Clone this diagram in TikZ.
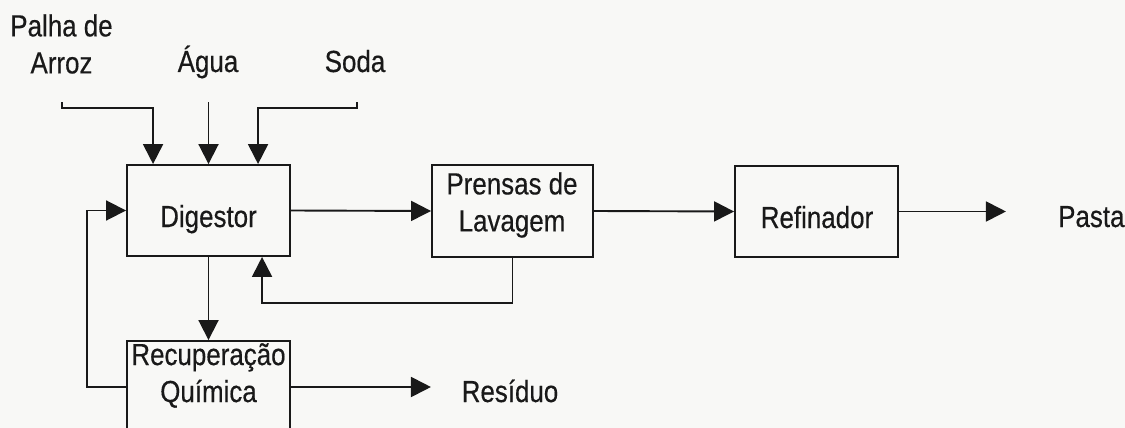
\documentclass[tikz,border=0pt]{standalone}
\usepackage{fontspec}
\setmainfont{Liberation Sans}[FakeStretch=0.85,FakeBold=0.4]
\usetikzlibrary{arrows.meta,calc}
\definecolor{bg}{RGB}{248,248,246}
\definecolor{ink}{RGB}{25,25,25}
\begin{document}
\begin{tikzpicture}[x=1pt,y=-1pt,
  box/.style={draw=ink, line width=1.9pt, minimum width=163pt, minimum height=91pt, inner sep=0pt},
  txt/.style={text=ink, font=\fontsize{30.5pt}{37pt}\selectfont, inner sep=0pt, align=center},
  arr/.style={draw=ink, line width=1.9pt, -{Triangle[length=20pt,width=20pt]}}]
\clip (0,0) rectangle (1125,428);
\fill[bg] (0,0) rectangle (1125,428);
% boxes
\node[box] (dig) at (208.5,210.5) {};
\node[box, minimum width=161pt, minimum height=92pt] (pre) at (512.5,211) {};
\node[box] (ref) at (816.5,211.5) {};
\node[box, minimum height=92pt] (rec) at (208.5,387) {};
% texts
\node[txt, anchor=base] (digt) at (208.5,227) {Digestor};
\node[txt] (pret) at (512,205) {Prensas de\\Lavagem};
\node[txt, anchor=base] (reft) at (817,228) {Refinador};
\node[txt] (rect) at (208.5,375.5) {Recuperação\\Química};
\node[txt] (palha) at (61.5,44) {Palha de\\Arroz};
\node[txt, anchor=base] (agua) at (208,72) {Água};
\node[txt, anchor=base] (soda) at (355,72) {Soda};
\node[txt, anchor=base west] (pasta) at (1058,227) {Pasta};
\node[txt, anchor=base] (res) at (510,402) {Resíduo};
% free ends
\coordinate (pa) at (62,102);
\coordinate (ag) at (208.5,102);
\coordinate (so) at (357,102);
% connectors
\draw[arr] (pa) -- ++(0,6) -| ($(dig.north west)+(27,0)$);
\draw[arr] (ag) -- (dig.north);
\draw[arr] (so) -- ++(0,6) -| ($(dig.north west)+(132,0)$);
\draw[arr] (dig.east) -- (pre.west);
\draw[arr] (pre.east) -- (ref.west);
\draw[arr] (ref.east) -- ++(107,0);
\draw[arr] (dig.south) -- (rec.north);
\draw[arr] (pre.south) -- ++(0,45) -| ($(dig.south west)+(136,0)$);
\draw[arr] (rec.west) -- ++(-39,0) |- (dig.west);
\draw[arr] (rec.east) -- ++(140,0);
\end{tikzpicture}
\end{document}
